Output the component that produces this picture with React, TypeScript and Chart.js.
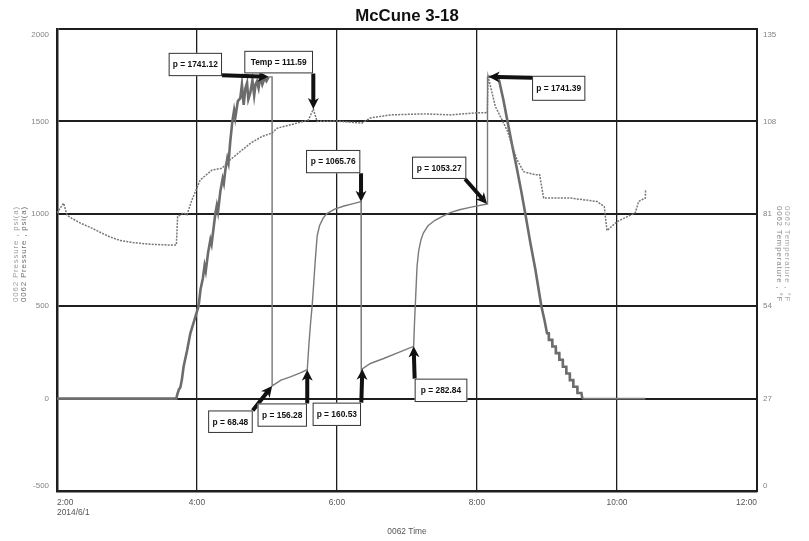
import React, { useEffect, useRef } from 'react';
import { Chart, registerables } from 'chart.js';

Chart.register(...registerables);

const TITLE = 'McCune 3-18';
const X_TITLE = '0062 Time';
const Y_TITLE = '0062 Pressure , psi(a)';
const Y2_TITLE = '0062 Temperature , °F';
const DATE_LABEL = '2014/6/1';

// time axis in minutes after midnight
const xTickMinutes = [120, 240, 360, 480, 600, 720];
const pressureTicks = [-500, 0, 500, 1000, 1500, 2000];
const temperatureTicks = [0, 27, 54, 81, 108, 135];

// [minutes, psi]
const pressureRise: [number, number][] = [
  [120, 0], [222.3, 0], [223, 20], [224.5, 50], [225.7, 60], [227, 100], [228.5, 172], [231.5, 260],
  [234.3, 353], [238, 430], [241.4, 502], [243, 590], [245, 650], [246.5, 720], [247.5, 690],
  [249.5, 790], [251.5, 860], [252.5, 835], [255.7, 1000], [257, 1045], [258, 1010], [260, 1120],
  [262, 1190], [263, 1165], [264.3, 1237], [266, 1300], [267, 1275], [268.5, 1390], [270.3, 1500],
  [271.8, 1560], [272.8, 1520], [275, 1610], [277.1, 1626], [278.5, 1700], [280, 1590], [281.5, 1680],
  [282.9, 1709], [284, 1620], [285.7, 1655], [287.5, 1722], [289, 1640], [290.2, 1700], [291.4, 1716],
  [292.8, 1680], [294.3, 1743], [296, 1700], [298, 1735], [299.5, 1718], [301.4, 1741.12],
];

const pressureCycles: [number, number][] = [
  [301.4, 1741.12], [304.3, 1741], [304.4, 68.48], [312, 100], [320, 118], [328, 138], [334.5, 156.28],
  [336, 300], [337.5, 420], [338.8, 510], [340, 620], [341.5, 760], [343, 880], [345, 935], [348, 975],
  [351, 1000], [358, 1025], [366, 1042], [374, 1055], [380.6, 1065.76], [380.8, 0], [381.7, 160.53],
  [388.6, 190], [400, 217], [414, 253], [425.7, 282.84], [426.5, 420], [427.5, 560], [428.6, 714],
  [430, 800], [432, 860], [434, 896], [438, 935], [444, 965], [450, 985], [457, 1006], [465, 1022],
  [475, 1036], [488.6, 1053.27], [489, 1741.39],
];

const pressureFall: [number, number][] = [
  [489, 1741.39], [497, 1741], [499, 1720], [502.6, 1617], [506, 1505], [510, 1375], [514, 1250],
  [518, 1120], [521.4, 1000], [525.7, 844], [530, 700], [535.1, 502], [538, 420], [540, 354],
  [541.5, 354], [541.6, 318], [544.5, 318], [544.6, 282], [547.5, 282], [547.6, 246], [550.5, 246],
  [550.6, 210], [553.5, 210], [553.6, 172], [556.5, 172], [556.6, 136], [559.5, 136], [559.6, 100],
  [562.5, 100], [562.6, 64], [566, 64], [566.1, 30], [569.5, 30], [570.3, 0],
];

const pressureTail: [number, number][] = [[570.3, 0], [624.3, 0]];

// [minutes, °F]
const temperature: [number, number][] = [
  [120, 81.2], [123, 82.8], [125.7, 84.1], [128.6, 80.6], [133, 79.6], [140, 78.3], [150, 76.8],
  [157, 75.6], [165, 74.3], [174, 73.2], [185, 72.6], [200, 72.1], [215, 71.9], [222.3, 71.9],
  [223.4, 80.2], [228.5, 81.3], [231.4, 80.7], [235.7, 85.1], [242.8, 90.9], [252.9, 93.8],
  [261.4, 94.3], [268.5, 96.8], [277.1, 99.2], [285.7, 101.6], [295.7, 103.6], [304.3, 104.6],
  [308.6, 106.0], [320, 107.0], [331.4, 108.0], [335.5, 108.4], [339.7, 111.59], [342.9, 108.0],
  [360, 108.1], [381.4, 107.5], [388.6, 109.0], [405.7, 109.9], [434.3, 110.2], [457.1, 109.9],
  [480, 110.5], [488.8, 110.5], [489.5, 121.1], [495.7, 112.4], [505.7, 105.5], [514.3, 96.8],
  [520, 93.3], [530, 92.4], [533.7, 92.4], [537.1, 85.6], [560, 85.6], [582.9, 84.6], [589.1, 83.1],
  [591.4, 76.1], [600, 78.7], [615.7, 81.3], [618.5, 84.6], [624.3, 85.6], [624.5, 88.2],
];

const annotationText = [
  'p = 1741.12', 'Temp = 111.59', 'p = 1065.76', 'p = 1053.27', 'p = 1741.39',
  'p = 68.48', 'p = 156.28', 'p = 160.53', 'p = 282.84',
];
const annotationTime = [301.4, 339.7, 380.6, 488.6, 490, 304.4, 334.5, 381.7, 425.7];
const annotationValue = [1741.12, 111.59, 1065.76, 1053.27, 1741.39, 68.48, 156.28, 160.53, 282.84];
const annotationAxis = ['y', 'y1', 'y', 'y', 'y', 'y', 'y', 'y', 'y'];

// layout of callouts relative to the arrow tip: box [dx, dy, w, h], arrow start [sx, sy]
const calloutBox = [
  [-100, -24, 53.4, 23.3], [-69, -58.3, 68.7, 22.6], [-55, -51.7, 54.3, 23.3], [-75, -47.3, 54.3, 22.3],
  [43.4, -1, 53.3, 25], [-64, 24.5, 44.6, 22.5], [-49.7, 33.7, 49.4, 23.3], [-49.7, 33.7, 48.4, 23.3],
  [1, 32.3, 52.7, 23.4],
];
const calloutStart = [
  [-46.6, -1.7], [0, -35.7], [0, -28.4], [-22, -25], [43.4, 1], [-19.4, 24.5], [0, 33.7], [-1, 33.7], [1, 32.3],
];

const GRID = '#1e1e1e';

function drawArrow(ctx: CanvasRenderingContext2D, x0: number, y0: number, x1: number, y1: number) {
  const ang = Math.atan2(y1 - y0, x1 - x0);
  const len = Math.hypot(x1 - x0, y1 - y0);
  const head = 11;
  const hw = 5.5;
  const sw = 2;
  ctx.save();
  ctx.translate(x0, y0);
  ctx.rotate(ang);
  ctx.beginPath();
  ctx.moveTo(0, -sw);
  ctx.lineTo(len - head + 2, -sw);
  ctx.lineTo(len - head, -hw);
  ctx.lineTo(len, 0);
  ctx.lineTo(len - head, hw);
  ctx.lineTo(len - head + 2, sw);
  ctx.lineTo(0, sw);
  ctx.closePath();
  ctx.fillStyle = '#111';
  ctx.fill();
  ctx.restore();
}

export default function App() {
  const ref = useRef<HTMLCanvasElement | null>(null);

  useEffect(() => {
    document.body.style.margin = '0';
    const canvas = ref.current;
    if (!canvas) return;

    const probe = document.createElement('canvas').getContext('2d')!;
    probe.font = "20px 'Liberation Sans Narrow', monospace";
    const wNarrow = probe.measureText('McCune 3-18 0062').width;
    probe.font = '20px monospace';
    const wMono = probe.measureText('McCune 3-18 0062').width;
    const hasNarrow = Math.abs(wNarrow - wMono) > 0.5;
    const FAMILY = hasNarrow
      ? "'Liberation Sans Narrow', 'Liberation Sans', Arial, sans-serif"
      : "'Liberation Sans', Arial, sans-serif";
    const k = hasNarrow ? 1 : 0.84;

    const overlay = {
      id: 'overlay',
      afterDatasetsDraw(chart: any) {
        const ctx: CanvasRenderingContext2D = chart.ctx;
        ctx.save();
        for (let i = 0; i < annotationText.length; i++) {
          const tx = chart.scales.x.getPixelForValue(annotationTime[i]);
          const ty = chart.scales[annotationAxis[i]].getPixelForValue(annotationValue[i]);
          const [dx, dy, w, h] = calloutBox[i];
          const [sx, sy] = calloutStart[i];
          drawArrow(ctx, tx + sx, ty + sy, tx, ty);
          ctx.fillStyle = '#fff';
          ctx.fillRect(tx + dx, ty + dy, w, h);
          ctx.strokeStyle = '#333';
          ctx.lineWidth = 1;
          ctx.strokeRect(tx + dx + 0.5, ty + dy + 0.5, w - 1, h - 1);
          ctx.fillStyle = '#111';
          ctx.font = `bold ${10 * k}px ${FAMILY}`;
          ctx.textAlign = 'center';
          ctx.textBaseline = 'middle';
          ctx.fillText(annotationText[i], tx + dx + w / 2, ty + dy + h / 2 + 0.5);
        }
        ctx.restore();
      },
      afterDraw(chart: any) {
        const ctx: CanvasRenderingContext2D = chart.ctx;
        const area = chart.chartArea;
        ctx.save();
        // title
        ctx.fillStyle = '#111';
        ctx.font = `bold ${20 * k}px ${FAMILY}`;
        ctx.textAlign = 'center';
        ctx.textBaseline = 'middle';
        ctx.fillText(TITLE, (area.left + area.right) / 2, 16);

        // y tick labels (edge labels sit inside the frame)
        ctx.font = `${9.5 * k}px ${FAMILY}`;
        ctx.fillStyle = '#858585';
        const ys = chart.scales.y;
        ctx.textAlign = 'right';
        pressureTicks.forEach((v, i) => {
          let y = ys.getPixelForValue(v);
          if (i === pressureTicks.length - 1) y += 6;
          if (i === 0) y -= 5;
          ctx.fillText(String(v), area.left - 8, y);
        });
        const y1 = chart.scales.y1;
        ctx.textAlign = 'left';
        temperatureTicks.forEach((v, i) => {
          let y = y1.getPixelForValue(v);
          if (i === temperatureTicks.length - 1) y += 6;
          if (i === 0) y -= 5;
          ctx.fillText(String(v), area.right + 6, y);
        });

        // axis titles (two stacked copies, as in the source)
        const midY = 254;
        ctx.font = `${9.5 * k}px ${FAMILY}`;
        (ctx as any).letterSpacing = '0.8px';
        ctx.textAlign = 'center';
        ctx.textBaseline = 'middle';
        const drawRot = (text: string, x: number, y: number, rot: number, color: string) => {
          ctx.save();
          ctx.translate(x, y);
          ctx.rotate(rot);
          ctx.fillStyle = color;
          ctx.fillText(text, 0, 0);
          ctx.restore();
        };
        drawRot(Y_TITLE, 15.5, midY, -Math.PI / 2, '#a0a0a0');
        drawRot(Y_TITLE, 23.5, midY, -Math.PI / 2, '#6e6e6e');
        drawRot(Y2_TITLE, area.right + 22, midY, Math.PI / 2, '#8a8a8a');
        drawRot(Y2_TITLE, area.right + 30, midY, Math.PI / 2, '#a8a8a8');
        ctx.restore();
      },
    };

    const pts = (arr: [number, number][]) => arr.map(([x, y]) => ({ x, y }));

    const chart = new Chart(canvas, {
      type: 'line',
      data: {
        datasets: [
          {
            label: '0062 Temperature',
            data: pts(temperature),
            yAxisID: 'y1',
            borderColor: '#777777',
            borderWidth: 1.5,
            borderDash: [2, 1.2],
            pointRadius: 0,
          },
          {
            label: '0062 Pressure',
            data: pts(pressureCycles),
            yAxisID: 'y',
            borderColor: '#7a7a7a',
            borderWidth: 1.4,
            pointRadius: 0,
          },
          {
            label: '0062 Pressure',
            data: pts(pressureTail),
            yAxisID: 'y',
            borderColor: '#7a7a7a',
            borderWidth: 1.6,
            pointRadius: 0,
          },
          {
            label: '0062 Pressure',
            data: pts(pressureRise),
            yAxisID: 'y',
            borderColor: '#6c6c6c',
            borderWidth: 2.6,
            pointRadius: 0,
          },
          {
            label: '0062 Pressure',
            data: pts(pressureFall),
            yAxisID: 'y',
            borderColor: '#6c6c6c',
            borderWidth: 2.6,
            pointRadius: 0,
          },
        ],
      },
      options: {
        responsive: false,
        animation: false,
        devicePixelRatio: 1,
        layout: { padding: { top: 29, left: 0, right: 0, bottom: 0 } },
        plugins: {
          legend: { display: false },
          title: { display: false },
          tooltip: { enabled: false },
        },
        scales: {
          x: {
            type: 'linear',
            min: 120,
            max: 720,
            afterBuildTicks: (s: any) => {
              s.ticks = xTickMinutes.map((v) => ({ value: v }));
            },
            afterFit: (s: any) => {
              s.height = 50;
            },
            ticks: {
              align: 'inner',
              padding: 7,
              color: '#555',
              font: { family: FAMILY, size: 10 * k },
              maxRotation: 0,
              autoSkip: false,
              callback: (v: any) => (v === 120 ? [`${v / 60}:00`, DATE_LABEL] : `${v / 60}:00`),
            },
            grid: { color: GRID, lineWidth: 1.3, drawTicks: false },
            border: { display: true, color: GRID, width: 2.5 },
            title: {
              display: true,
              text: X_TITLE,
              color: '#555',
              font: { family: FAMILY, size: 10 * k },
              padding: { top: 0, bottom: 4 },
            },
          },
          y: {
            type: 'linear',
            position: 'left',
            min: -500,
            max: 2000,
            afterBuildTicks: (s: any) => {
              s.ticks = pressureTicks.map((v) => ({ value: v }));
            },
            afterFit: (s: any) => {
              s.width = 57;
            },
            ticks: { display: false },
            grid: { color: GRID, lineWidth: 2, drawTicks: false },
            border: { display: true, color: GRID, width: 2.5 },
          },
          y1: {
            type: 'linear',
            position: 'right',
            min: 0,
            max: 135,
            afterBuildTicks: (s: any) => {
              s.ticks = temperatureTicks.map((v) => ({ value: v }));
            },
            afterFit: (s: any) => {
              s.width = 52;
            },
            ticks: { display: false },
            grid: { display: false, drawTicks: false },
            border: { display: true, color: GRID, width: 2 },
          },
        },
      } as any,
      plugins: [overlay],
    });

    return () => chart.destroy();
  }, []);

  return (
    <div style={{ width: 809, height: 541, background: '#fff' }}>
      <canvas ref={ref} width={809} height={541} style={{ display: 'block' }} />
    </div>
  );
}
